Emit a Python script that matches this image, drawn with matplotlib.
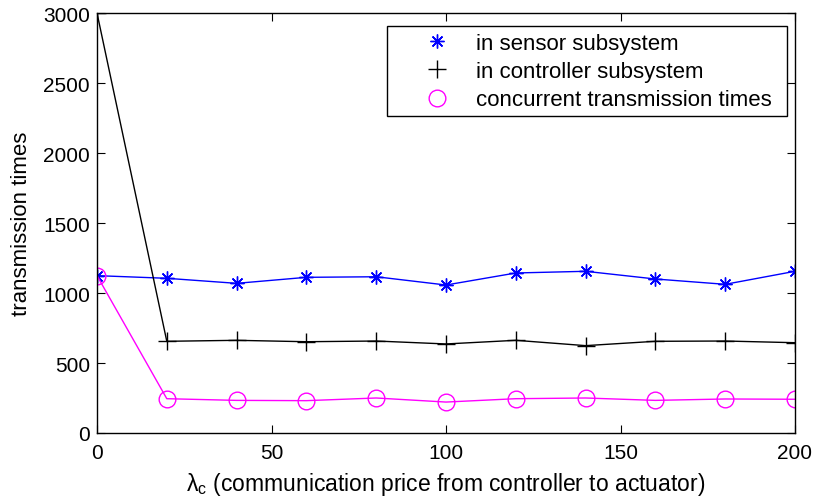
import matplotlib
matplotlib.use("Agg")
import matplotlib.pyplot as plt
from matplotlib.patches import Rectangle

plt.rcParams['font.family'] = ['Liberation Sans', 'DejaVu Sans']
plt.rcParams['mathtext.fontset'] = 'custom'
plt.rcParams['mathtext.rm'] = 'Liberation Sans'

lam = [0, 20, 40, 60, 80, 100, 120, 140, 160, 180, 200]
sensor = [1124, 1105, 1069, 1112, 1116, 1057, 1143, 1155, 1100, 1062, 1155]
controller = [3000, 655, 662, 652, 657, 636, 662, 624, 655, 657, 645]
concurrent = [1124, 245, 233, 231, 250, 221, 245, 250, 233, 243, 241]

fig = plt.figure(figsize=(8.15, 5.02), dpi=100)
ax = fig.add_axes([97/815, 1-434/502, (795-97)/815, (434-14)/502])

ax.plot(lam, sensor, color='#0000ff', marker=(8, 2, 0), markersize=10, markeredgewidth=1,
        linewidth=1, label='in sensor subsystem')
ax.plot(lam, controller, color='black', marker='+', markersize=13, markeredgewidth=1,
        linewidth=1, label='in controller subsystem')
ax.plot(lam, concurrent, color='#ff00ff', marker='o', markersize=12, markerfacecolor='none',
        markeredgewidth=1, linewidth=1, label='concurrent transmission times')

ax.set_xlim(0, 200)
ax.set_ylim(0, 3000)
ax.set_xticks([0, 50, 100, 150, 200])
ax.set_yticks([0, 500, 1000, 1500, 2000, 2500, 3000])
ax.tick_params(direction='in', top=True, right=True, labelsize=15, length=6)
ax.tick_params(axis='x', pad=7)
ax.tick_params(axis='y', pad=5)
for s in ax.spines.values():
    s.set_linewidth(1)

ax.set_xlabel('λ$_\\mathregular{c}$ (communication price from controller to actuator)',
              fontsize=16.5, labelpad=6)
ax.set_ylabel('transmission times', fontsize=16, labelpad=8)

# legend frame (MATLAB-style box)
x0, x1 = (387-97)/698, (787-97)/698
y0, y1 = (434-117)/420, (434-27)/420
ax.add_patch(Rectangle((x0, y0), x1-x0, y1-y0, transform=ax.transAxes,
                       facecolor='white', edgecolor='black', linewidth=1, zorder=5))

leg = ax.legend(loc='upper left', bbox_to_anchor=(x0 + 27/698, y1), fontsize=16, frameon=False,
                borderpad=0.3, labelspacing=0.33, handlelength=1.5,
                handletextpad=1.0, borderaxespad=0.0)
leg.set_zorder(6)
for line in leg.get_lines():
    line.set_linestyle('none')

fig.savefig('out.png', dpi=100)
